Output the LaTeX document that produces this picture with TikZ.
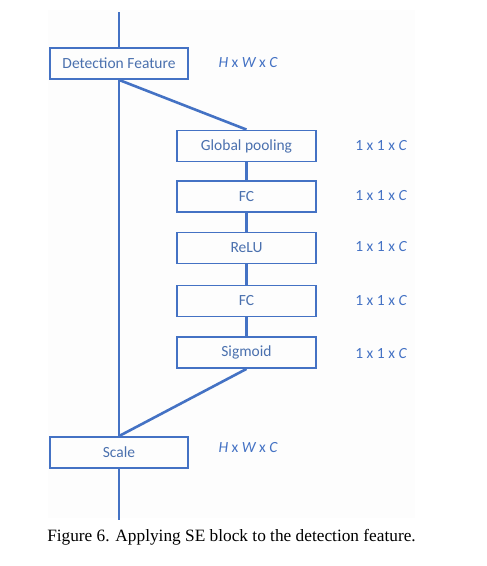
\documentclass[tikz,border=0pt]{standalone}
\usepackage{fontspec}
\setmainfont{Liberation Serif}
\newfontfamily\boxfont{Carlito}
\definecolor{seblue}{HTML}{4472C4}
\definecolor{boxtxt}{HTML}{4A70AE}
\definecolor{panel}{HTML}{FDFDFD}
\begin{document}
\begin{tikzpicture}[x=1pt,y=-1pt,
  blk/.style={draw=seblue,line width=1.8pt,minimum height=31pt,inner sep=0pt,
    font=\boxfont\fontsize{15.5}{17}\selectfont,text=boxtxt},
  dim/.style={font=\boxfont\fontsize{15.5}{17}\selectfont,text=seblue,anchor=center},
  wire/.style={draw=seblue,line width=2.6pt}]
\useasboundingbox (0,0) rectangle (487,566);
\fill[panel] (48,10) rectangle (415,518);
\node[blk,minimum width=138pt] (det) at (119,63.5) {Detection Feature};
\node[blk,minimum width=139pt] (gp) at (246.5,146) {Global pooling};
\node[blk,minimum width=139pt] (fc1) at (246.5,196.5) {FC};
\node[blk,minimum width=139pt] (relu) at (246.5,248) {ReLU};
\node[blk,minimum width=139pt] (fc2) at (246.5,301) {FC};
\node[blk,minimum width=139pt] (sig) at (246.5,352.5) {Sigmoid};
\node[blk,minimum width=138pt] (scale) at (119,452.5) {Scale};
\coordinate (top) at (119,12);
\coordinate (bot) at (119,520);
\node[dim] (d0) at (248,63) {\itshape H\upshape{} x \itshape W\upshape{} x \itshape C};
\node[dim] (d1) at (381,146) {1 x 1 x \itshape C};
\node[dim] (d2) at (381,196) {1 x 1 x \itshape C};
\node[dim] (d3) at (381,247) {1 x 1 x \itshape C};
\node[dim] (d4) at (381,301) {1 x 1 x \itshape C};
\node[dim] (d5) at (381,354) {1 x 1 x \itshape C};
\node[dim] (d6) at (248,448) {\itshape H\upshape{} x \itshape W\upshape{} x \itshape C};
\draw[wire] (top) -- (det.north);
\draw[wire] (det.south) -- (scale.north);
\draw[wire] (det.south) -- (gp.north);
\draw[wire] (gp.south) -- (fc1.north);
\draw[wire] (fc1.south) -- (relu.north);
\draw[wire] (relu.south) -- (fc2.north);
\draw[wire] (fc2.south) -- (sig.north);
\draw[wire] (sig.south) -- (scale.north);
\draw[wire] (scale.south) -- (bot);
\node[font=\fontsize{17.3}{19}\selectfont,anchor=center] (cap) at (231.5,537) {Figure 6. Applying SE block to the detection feature.};
\end{tikzpicture}
\end{document}
